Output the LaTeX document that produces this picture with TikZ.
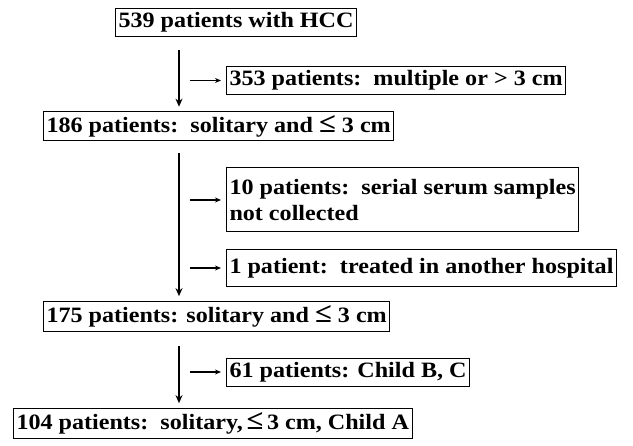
\documentclass[tikz,border=0pt]{standalone}
\usepackage{fontspec}
\setmainfont{Liberation Serif}[FakeStretch=1.1]
\usetikzlibrary{arrows.meta}
\newcommand{\bigleq}{{\fontsize{28}{27}\selectfont ≤}}

\begin{document}
\begin{tikzpicture}[x=1bp, y=-1bp,
    box/.style={draw, line width=1bp, anchor=west, align=left, inner xsep=3bp, inner ysep=4bp,
      minimum height=28bp, font=\fontsize{22}{27}\selectfont\bfseries},
    mainarrow/.style={-{Stealth[length=8bp, width=7bp]}, line width=2.2bp},
    sidearrow/.style={-{Stealth[length=6bp, width=5bp]}, line width=1.3bp}]
    \useasboundingbox (0,0) rectangle (633,446);
    % spine and start of the side arrows
    \coordinate (spine) at (179,0);
    \coordinate (side) at (190,0);
    % main flow
    \node[box] (hcc) at (115,22.5) {539 patients with HCC};
    \node[box] (solA) at (43,126) {186 patients:\ \ solitary and \bigleq\ 3 cm};
    \node[box] (solB) at (43,316.5) {175 patients: solitary and \bigleq\ 3 cm};
    \node[box] (childA) at (13,423.5) {104 patients:\ \ solitary,\,\bigleq\,3 cm, Child A};
    % excluded
    \node[box] (multi) at (226,80.5) {353 patients:\ \ multiple or > 3 cm};
    \node[box, minimum height=64bp] (serum) at (226,200) {10 patients:\ \ serial serum samples\\not collected};
    \node[box, minimum height=37bp] (hosp) at (226,268) {1 patient:\ \ treated in another hospital};
    \node[box] (childBC) at (226,372) {61 patients: Child B, C};
    % arrows down
    \draw[mainarrow, shorten <=13bp, shorten >=4bp] (hcc.south -| spine) -- (solA.north -| spine);
    \draw[mainarrow, shorten <=12bp, shorten >=5bp] (solA.south -| spine) -- (solB.north -| spine);
    \draw[mainarrow, shorten <=14bp, shorten >=5bp] (solB.south -| spine) -- (childA.north -| spine);
    % arrows to the side
    \foreach \n in {multi, serum, hosp, childBC}
      \draw[sidearrow, shorten >=5bp] (\n.west -| side) -- (\n.west);
\end{tikzpicture}
\end{document}
